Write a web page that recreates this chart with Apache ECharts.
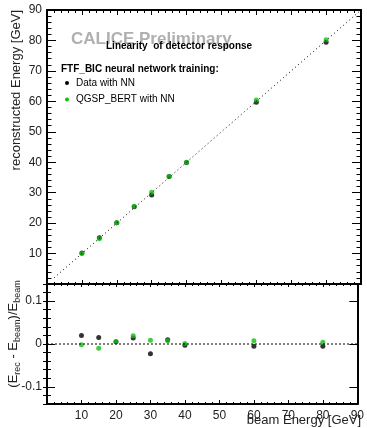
<!DOCTYPE html>
<html>
<head>
<meta charset="utf-8">
<script src="https://cdn.jsdelivr.net/npm/echarts@6/dist/echarts.min.js"></script>
<style>
  html, body { margin: 0; padding: 0; background: #fff; }
  #chart { width: 367px; height: 428px; }
</style>
</head>
<body>
<div id="chart"></div>
<script>
  // beam energies (GeV)
  var beamEnergy = [10, 15, 20, 25, 30, 35, 40, 60, 80];
  // reconstructed energy (GeV)
  var recoData = [10.2, 15.2, 20.1, 25.35, 29.2, 35.35, 39.9, 59.7, 79.4];
  var recoQgsp = [10.0, 14.85, 20.1, 25.5, 30.1, 35.3, 40.0, 60.4, 80.25];
  // relative residual (Erec - Ebeam)/Ebeam
  var resData = [0.020, 0.0154, 0.005, 0.0138, -0.023, 0.010, -0.003, -0.0054, -0.0054];
  var resQgsp = [-0.0015, -0.010, 0.0054, 0.019, 0.0085, 0.0077, 0.001, 0.0077, 0.004];
  // reference lines
  var diagLine = [[2, 2], [90, 90]];
  var zeroLine = [[0, 0], [90, 0]];
  var resMajorTicks = [-0.1, 0, 0.1];

  var FONT = 'Liberation Sans';
  var green = '#10c010';

  function pairs(xs, ys) {
    return xs.map(function (x, i) { return [x, ys[i]]; });
  }

  function xAx(grid, pos, showLabel, major, minor) {
    return {
      type: 'value', gridIndex: grid, position: pos, min: 0, max: 90, interval: 10,
      axisLine: { show: true, onZero: false, lineStyle: { color: '#000', width: 2 } },
      axisTick: { show: true, inside: true, length: major, lineStyle: { color: '#000' } },
      minorTick: { show: true, splitNumber: 5, length: minor, lineStyle: { color: '#000' } },
      splitLine: { show: false },
      axisLabel: { show: showLabel, showMinLabel: false, color: '#222', fontFamily: FONT, fontSize: 12, margin: 6 }
    };
  }

  function yTop(pos, showLabel) {
    return {
      type: 'value', gridIndex: 0, position: pos, min: 0, max: 90, interval: 10,
      axisLine: { show: true, onZero: false, lineStyle: { color: '#000', width: 2 } },
      axisTick: { show: true, inside: true, length: 9, lineStyle: { color: '#000' } },
      minorTick: { show: true, splitNumber: 5, length: 4.5, lineStyle: { color: '#000' } },
      splitLine: { show: false },
      axisLabel: { show: showLabel, showMinLabel: false, color: '#222', fontFamily: FONT, fontSize: 12, margin: 5 }
    };
  }

  function yResMajor(pos, showLabel) {
    return {
      type: 'value', gridIndex: 1, position: pos, min: -0.14, max: 0.14,
      axisLine: { show: true, onZero: false, lineStyle: { color: '#000', width: 2 } },
      axisTick: { show: true, inside: true, length: 8, customValues: resMajorTicks, lineStyle: { color: '#000' } },
      splitLine: { show: false },
      axisLabel: {
        show: showLabel, customValues: resMajorTicks, color: '#222', fontFamily: FONT, fontSize: 12, margin: 5,
        formatter: function (v) { return v === 0 ? '0' : v.toFixed(1); }
      }
    };
  }

  function yResMinor(pos) {
    return {
      type: 'value', gridIndex: 1, position: pos, min: -0.14, max: 0.14, interval: 0.02,
      axisLine: { show: false },
      axisTick: { show: true, inside: true, length: 4, lineStyle: { color: '#000' } },
      splitLine: { show: false },
      axisLabel: { show: false }
    };
  }

  var chart = echarts.init(document.getElementById('chart'));
  chart.setOption({
    animation: false,
    grid: [
      { left: 47, top: 10, width: 314, height: 274 },
      { left: 47, top: 284, width: 314, height: 120 }
    ],
    xAxis: [
      xAx(0, 'bottom', false, 4, 2),
      xAx(0, 'top', false, 5, 3),
      xAx(1, 'bottom', true, 4, 2),
      xAx(1, 'top', false, 3, 2)
    ],
    yAxis: [
      yTop('left', true),
      yTop('right', false),
      yResMajor('left', true),
      yResMinor('left'),
      yResMajor('right', false),
      yResMinor('right')
    ],
    series: [
      {
        type: 'line', xAxisIndex: 0, yAxisIndex: 0, data: diagLine, symbol: 'none',
        lineStyle: { color: '#000', width: 1, type: [1, 3] }
      },
      {
        name: 'Data with NN', type: 'scatter', xAxisIndex: 0, yAxisIndex: 0,
        data: pairs(beamEnergy, recoData), symbolSize: 5, itemStyle: { color: '#000' }
      },
      {
        name: 'QGSP_BERT with NN', type: 'scatter', xAxisIndex: 0, yAxisIndex: 0,
        data: pairs(beamEnergy, recoQgsp), symbolSize: 5, itemStyle: { color: green }
      },
      {
        type: 'line', xAxisIndex: 2, yAxisIndex: 2, data: zeroLine, symbol: 'none',
        lineStyle: { color: '#000', width: 1, type: [2, 2] }
      },
      {
        type: 'scatter', xAxisIndex: 2, yAxisIndex: 2,
        data: pairs(beamEnergy, resData), symbolSize: 5, itemStyle: { color: '#000' }
      },
      {
        type: 'scatter', xAxisIndex: 2, yAxisIndex: 2,
        data: pairs(beamEnergy, resQgsp), symbolSize: 5, itemStyle: { color: green }
      }
    ],
    graphic: [
      { type: 'text', x: 71, y: 39, style: { text: 'CALICE Preliminary', fill: '#b0b0b0', font: 'bold 17px ' + FONT, verticalAlign: 'middle' } },
      { type: 'text', x: 106, y: 46, style: { text: 'Linearity  of detector response', fill: '#000', font: 'bold 10px ' + FONT, verticalAlign: 'middle' } },
      { type: 'text', x: 61, y: 69, style: { text: 'FTF_BIC neural network training:', fill: '#000', font: 'bold 10px ' + FONT, verticalAlign: 'middle' } },
      { type: 'circle', shape: { cx: 67, cy: 83, r: 2 }, style: { fill: '#000' } },
      { type: 'text', x: 76, y: 83, style: { text: 'Data with NN', fill: '#000', font: '10px ' + FONT, verticalAlign: 'middle' } },
      { type: 'circle', shape: { cx: 67, cy: 99.5, r: 2 }, style: { fill: green } },
      { type: 'text', x: 76, y: 99.5, style: { text: 'QGSP_BERT with NN', fill: '#000', font: '10px ' + FONT, verticalAlign: 'middle' } },
      {
        type: 'text', x: 10, y: 10, rotation: Math.PI / 2,
        style: { text: 'reconstructed Energy [GeV]', fill: '#222', font: '13px ' + FONT, align: 'right', verticalAlign: 'top' }
      },
      {
        type: 'text', x: 7, y: 334, rotation: Math.PI / 2,
        style: {
          text: '{m|(E}{s|rec}{m| - E}{s|beam}{m|)/E}{s|beam}',
          fill: '#222', align: 'center', verticalAlign: 'top',
          rich: {
            m: { fontSize: 13, fontFamily: FONT, fill: '#222', verticalAlign: 'top' },
            s: { fontSize: 9, fontFamily: FONT, fill: '#222', verticalAlign: 'bottom', padding: [6, 0, 0, 0] }
          }
        }
      },
      { type: 'text', x: 361, y: 420, style: { text: 'beam Energy [GeV]', fill: '#222', font: '13px ' + FONT, align: 'right', verticalAlign: 'middle' } }
    ]
  });
</script>
</body>
</html>
